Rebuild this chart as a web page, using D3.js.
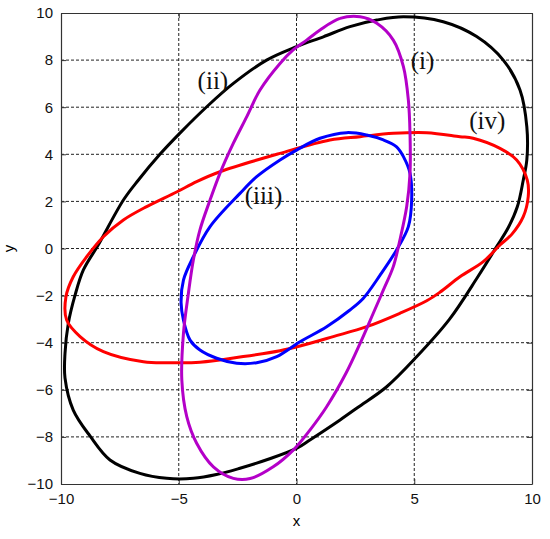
<!DOCTYPE html>
<html>
<head>
<meta charset="utf-8">
<script src="https://cdn.jsdelivr.net/npm/d3@7"></script>
<style>
  body { margin: 0; background: #fff; }
  svg text { font-family: "Liberation Sans", Arial, sans-serif; }
</style>
</head>
<body>
<div id="chart"></div>
<script>
// tick values
var xTicks = [-10, -5, 0, 5, 10];
var yTicks = [-10, -8, -6, -4, -2, 0, 2, 4, 6, 8, 10];

// curve (i) - magenta
var curveI = [[2.7,9.84],[1.85,9.77],[1.0,9.28],[0.43,8.85],[-0.14,8.43],[-0.7,7.86],[-1.55,6.73],
  [-2.11,5.6],[-2.68,4.47],[-3.25,3.19],[-3.67,2.06],[-4.1,0.79],[-4.38,-0.49],[-4.59,-1.9],
  [-4.8,-3.6],[-4.87,-5.58],[-4.66,-7.14],[-4.24,-8.27],[-3.53,-9.27],[-2.68,-9.76],[-1.97,-9.77],
  [-0.99,-9.27],[-0.14,-8.56],[0.57,-7.71],[1.28,-6.72],[2.1,-5.3],[2.7,-4.03],[3.26,-2.75],
  [3.69,-1.76],[4.11,-0.77],[4.39,0.36],[4.68,1.78],[4.82,3.19],[4.82,4.89],[4.75,6.3],
  [4.54,7.72],[4.11,8.85],[3.41,9.56]];

// curve (ii) - black
var curveII = [[4.54,9.84],[3.41,9.7],[2.27,9.42],[1.14,8.99],[0,8.57],[-1.27,8.0],[-2.68,7.01],
  [-3.81,6.02],[-4.95,4.9],[-5.8,4.0],[-6.72,2.9],[-7.35,2.06],[-8.42,0.15],[-9.05,-0.91],
  [-9.4,-1.97],[-9.69,-3.18],[-9.83,-4.45],[-9.83,-5.5],[-9.48,-6.86],[-8.77,-7.96],[-7.92,-8.98],
  [-6.65,-9.55],[-5.51,-9.76],[-4.38,-9.76],[-3.4,-9.6],[-2.4,-9.33],[-1.2,-8.95],[0,-8.49],
  [0.57,-8.13],[1.85,-7.28],[2.6,-6.75],[3.83,-5.87],[5.1,-4.6],[6.5,-3.0],
  [7.7,-1.2],[8.5,0.08],[9.0,0.9],[9.38,1.78],[9.63,2.91],[9.78,3.76],[9.78,5.17],
  [9.49,6.73],[8.78,8.0],[7.65,9.0],[6.23,9.63]];

// curve (iii) - blue
var curveIII = [[2.13,4.92],[1.0,4.68],[0,4.18],[-0.7,3.76],[-1.69,3.05],[-2.4,2.34],[-3.67,0.93],
  [-4.38,-0.35],[-4.8,-1.34],[-4.9,-2.3],[-4.8,-3.04],[-4.52,-3.89],[-4.1,-4.31],[-3.39,-4.66],
  [-2.54,-4.87],[-1.69,-4.85],[-0.84,-4.59],[0.15,-3.96],[1.28,-3.32],[2.27,-2.61],[2.84,-2.11],
  [3.55,-1.13],[4.25,-0.06],[4.75,0.93],[4.89,2.06],[4.82,3.19],[4.54,3.9],[4.25,4.32],
  [3.69,4.61],[2.98,4.82]];

// curve (iv) - red
var curveIV = [[5.53,4.92],[4.11,4.89],[2.7,4.75],[1.42,4.61],[-0.7,4.04],[-3.25,3.26],[-4.24,2.84],
  [-5.09,2.4],[-6.36,1.78],[-7.35,1.21],[-8.2,0.5],[-8.91,-0.35],[-9.48,-1.2],[-9.79,-2.05],
  [-9.76,-3.04],[-9.19,-3.74],[-8.2,-4.38],[-6.5,-4.81],[-5.37,-4.85],[-4.1,-4.83],[-2.26,-4.59],
  [-0.7,-4.34],[0.15,-4.14],[1.56,-3.74],[2.98,-3.32],[4.39,-2.75],[5.53,-2.22],[6.1,-1.85],
  [6.94,-1.2],[7.93,-0.56],[8.64,0.15],[9.14,0.6],[9.63,1.35],[9.84,2.2],[9.8,2.9],[9.35,3.76],
  [8.64,4.25],[7.5,4.68],[6.94,4.75]];

var curves = [
    {name: "(ii)", pts: curveII, color: "#000000", lx: -3.55, ly: 7.0},
    {name: "(iv)", pts: curveIV, color: "#ff0000", lx: 8.1, ly: 5.3},
    {name: "(iii)", pts: curveIII, color: "#0000ff", lx: -1.4, ly: 2.15},
    {name: "(i)", pts: curveI, color: "#b400c8", lx: 5.35, ly: 7.85}
];

var width = 550, height = 539;
var x = d3.scaleLinear().domain([-10, 10]).range([61, 532]);
var y = d3.scaleLinear().domain([-10, 10]).range([484, 13]);

var svg = d3.select("#chart").append("svg")
    .attr("width", width)
    .attr("height", height);

// grid
var grid = svg.append("g").attr("class", "grid");
grid.selectAll("line.gx")
    .data(xTicks.filter(function(d) { return d > -10 && d < 10; }))
    .enter().append("line")
    .attr("x1", function(d) { return x(d); }).attr("x2", function(d) { return x(d); })
    .attr("y1", y(10)).attr("y2", y(-10))
    .attr("stroke", "#222").attr("stroke-width", 1).attr("stroke-dasharray", "3,2");
grid.selectAll("line.gy")
    .data(yTicks.filter(function(d) { return d > -10 && d < 10; }))
    .enter().append("line")
    .attr("y1", function(d) { return y(d); }).attr("y2", function(d) { return y(d); })
    .attr("x1", x(-10)).attr("x2", x(10))
    .attr("stroke", "#222").attr("stroke-width", 1).attr("stroke-dasharray", "3,2");

// axes
var xAxis = svg.append("g")
    .attr("transform", "translate(0," + y(-10) + ")")
    .call(d3.axisBottom(x).tickValues(xTicks).tickSizeInner(-5).tickSizeOuter(0).tickPadding(9));
var xTop = svg.append("g")
    .attr("transform", "translate(0," + y(10) + ")")
    .call(d3.axisTop(x).tickValues(xTicks).tickSizeInner(-5).tickSizeOuter(0).tickFormat(""));
var yAxis = svg.append("g")
    .attr("transform", "translate(" + x(-10) + ",0)")
    .call(d3.axisLeft(y).tickValues(yTicks).tickSizeInner(-5).tickSizeOuter(0).tickPadding(8));
var yRight = svg.append("g")
    .attr("transform", "translate(" + x(10) + ",0)")
    .call(d3.axisRight(y).tickValues(yTicks).tickSizeInner(-5).tickSizeOuter(0).tickFormat(""));

[xAxis, xTop, yAxis, yRight].forEach(function(a) {
    a.select(".domain").attr("stroke", "#333").attr("stroke-width", 1.2);
    a.selectAll(".tick line").attr("stroke", "#333");
    a.selectAll(".tick text")
        .attr("fill", "#111")
        .style("font-size", "15px")
        .style("font-family", "'Liberation Sans', Arial, sans-serif");
});

// curves
var line = d3.line()
    .x(function(d) { return x(d[0]); })
    .y(function(d) { return y(d[1]); })
    .curve(d3.curveCatmullRomClosed.alpha(0.5));

svg.append("g").selectAll("path")
    .data(curves)
    .enter().append("path")
    .attr("d", function(d) { return line(d.pts); })
    .attr("fill", "none")
    .attr("stroke", function(d) { return d.color; })
    .attr("stroke-width", 3);

// curve labels
svg.append("g").selectAll("text")
    .data(curves)
    .enter().append("text")
    .attr("x", function(d) { return x(d.lx); })
    .attr("y", function(d) { return y(d.ly); })
    .attr("text-anchor", "middle")
    .attr("dominant-baseline", "middle")
    .style("font-family", "'Liberation Serif', 'Times New Roman', serif")
    .style("font-size", "25px")
    .attr("fill", "#111")
    .text(function(d) { return d.name; });

// axis titles
svg.append("text")
    .attr("x", x(0)).attr("y", 526)
    .attr("text-anchor", "middle")
    .style("font-size", "15px")
    .text("x");
svg.append("text")
    .attr("transform", "translate(14," + y(0) + ") rotate(-90)")
    .attr("text-anchor", "middle")
    .style("font-size", "15px")
    .text("y");
</script>
</body>
</html>
